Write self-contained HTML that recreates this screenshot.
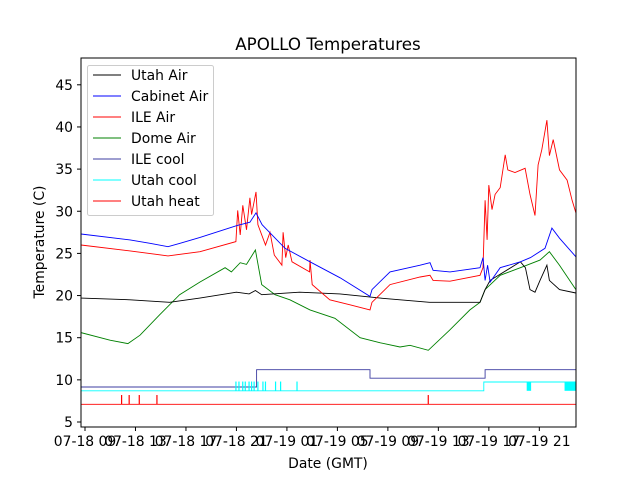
<!DOCTYPE html>
<html><head><meta charset="utf-8"><style>
body{margin:0;background:#fff}
svg{display:block;font-family:"DejaVu Sans","Liberation Sans",sans-serif}
</style></head><body>
<svg id="chart" width="640" height="480" viewBox="0 0 640 480">
<rect width="640" height="480" fill="#fff"/>
<text x="328" y="50" text-anchor="middle" font-size="16.7">APOLLO Temperatures</text>
<g id="plot"></g>
<rect x="81" y="58" width="495" height="369" fill="none" stroke="#000" stroke-width="1"/>
<g id="axes"></g>
<text x="328" y="468" text-anchor="middle" font-size="13.9">Date (GMT)</text>
<text transform="translate(44,242) rotate(-90)" text-anchor="middle" font-size="13.9">Temperature (C)</text>
<g id="legend"></g>
</svg>
<script>
const xTickHours=[9,13,17,21,25,29,33,37,41,45];
const xTickLabels=["07-18 09","07-18 13","07-18 17","07-18 21","07-19 01","07-19 05","07-19 09","07-19 13","07-19 17","07-19 21"];
const yTicks=[5,10,15,20,25,30,35,40,45];
const seriesNames=["Utah Air","Cabinet Air","ILE Air","Dome Air","ILE cool","Utah cool","Utah heat"];
const seriesColors=["#000","#00f","#f00","#008000","#3c3ca0","#00ffff","#f00"];
const utahAir=[[8.68,19.7],[12.57,19.5],[15.7,19.2],[18.1,19.7],[21,20.4],[22,20.2],[22.5,20.6],[23,20.1],[26,20.4],[29.2,20.2],[32.4,19.7],[36.3,19.2],[40.3,19.2],[40.7,20.7],[41.1,21.8],[43.5,24],[43.9,23.3],[44.26,20.7],[44.66,20.4],[45.05,21.8],[45.6,23.6],[45.8,21.8],[46.6,20.7],[47.9,20.3]];
const cabinetAir=[[8.68,27.3],[12.57,26.6],[14.15,26.2],[15.58,25.8],[16.53,26.2],[18.11,26.9],[21.04,28.3],[22.07,28.7],[22.55,29.8],[23.03,28.4],[24.85,25.6],[26.83,24],[29.21,22.1],[31.58,19.9],[31.74,20.7],[33.17,22.8],[35.55,23.6],[36.34,23.9],[36.58,23],[37.92,22.8],[40.3,23.3],[40.54,24.5],[40.7,21.8],[40.9,23.6],[41.1,21.6],[41.9,23.3],[43.5,24],[44.3,24.5],[45.45,25.6],[46,28],[46.6,26.8],[47.9,24.6]];
const ileAir=[[8.68,26],[12.57,25.3],[15.58,24.7],[18.11,25.2],[20.96,26.4],[21.1,30.1],[21.3,27.2],[21.5,30.7],[21.8,27.8],[22.07,31.6],[22.2,29.6],[22.55,32.3],[22.7,28.4],[23.3,26],[23.66,27.5],[24,24.8],[24.6,23.6],[24.7,27.5],[24.9,24.5],[25.1,26],[25.4,24],[26.8,22.8],[26.83,24.2],[27,21.3],[28.4,19.5],[30,18.9],[31.58,18.3],[31.74,19.2],[33.17,21.3],[35.55,22.2],[36.34,22.4],[36.58,21.8],[37.92,21.7],[40.3,22.4],[40.54,23.3],[40.7,31.3],[40.86,26.6],[41,33.1],[41.25,30.2],[41.5,32],[41.9,32.8],[42.3,36.7],[42.5,34.9],[43.07,34.6],[43.87,35.1],[44.26,32],[44.66,29.5],[44.9,35.5],[45.2,37.3],[45.6,40.8],[45.8,36.6],[46.1,38.5],[46.6,34.9],[47.2,33.7],[47.6,31.3],[47.9,29.8]];
const domeAir=[[8.68,15.6],[10.98,14.7],[12.4,14.3],[13.36,15.3],[14.9,17.7],[16.5,20.1],[18.1,21.6],[20.1,23.3],[20.6,22.8],[21.3,23.9],[21.8,23.7],[22.5,25.4],[23,21.3],[24.06,20.1],[25.24,19.5],[26.83,18.3],[28.8,17.3],[30.8,15],[32.4,14.4],[33.96,13.9],[34.75,14.1],[36.2,13.5],[37.9,15.9],[39.5,18.3],[40.3,19.2],[40.7,20.7],[41.9,22.4],[43.5,23.3],[45.05,24.2],[45.8,25.2],[46.6,23.6],[47.9,20.7]];
const ileCool=[[8.68,9.15],[22.6,9.15],[22.6,11.2],[31.58,11.2],[31.58,10.2],[40.7,10.2],[40.7,11.2],[47.9,11.2]];
const utahCool=[[8.68,8.7],[40.6,8.7],[40.6,9.75],[47.9,9.75]];
const utahCoolPulses=[20.96,21.2,21.5,21.7,22,22.2,22.4,22.7,23.1,23.3,24.1,24.5,25.8];
const utahCoolBlocks=[[44.0,44.35],[47.0,47.9]];
const utahHeatBase=7.1;
const utahHeatSpikes=[11.9,12.5,13.3,14.7,36.2];
const spikeTop=8.2, pulseTop=9.8;
const NS="http://www.w3.org/2000/svg";
const X=h=>85+(h-9)*12.62, Y=v=>422-(v-5)*8.43;
const plot=document.getElementById('plot'),axes=document.getElementById('axes'),legend=document.getElementById('legend');
function mk(tag,attrs,parent){const e=document.createElementNS(NS,tag);for(const k in attrs)e.setAttribute(k,attrs[k]);parent.appendChild(e);return e;}
const clip=mk('clipPath',{id:'c'},plot);mk('rect',{x:81,y:58,width:495,height:369},clip);
const g=mk('g',{'clip-path':'url(#c)'},plot);
function line(data,color,name){const p=mk('polyline',{points:data.map(d=>X(d[0]).toFixed(1)+','+Y(d[1]).toFixed(1)).join(' '),fill:'none',stroke:color,'stroke-width':0.9},g);

}
line(ileCool,seriesColors[4],'ile-cool-line');
line(utahCool,seriesColors[5],'utah-cool-line');
utahCoolPulses.forEach(h=>{const e=mk('line',{x1:X(h),x2:X(h),y1:Y(8.7),y2:Y(pulseTop),stroke:seriesColors[5],'stroke-width':1.2},g);

});
utahCoolBlocks.forEach(b=>{const e=mk('rect',{x:X(b[0]),y:Y(pulseTop),width:X(b[1])-X(b[0]),height:Y(8.7)-Y(pulseTop),fill:seriesColors[5]},g);

});
line([[8.68,utahHeatBase],[47.9,utahHeatBase]],seriesColors[6],'utah-heat-line');
utahHeatSpikes.forEach(h=>{const e=mk('line',{x1:X(h),x2:X(h),y1:Y(utahHeatBase),y2:Y(spikeTop),stroke:seriesColors[6],'stroke-width':1.2},g);

});
line(domeAir,seriesColors[3],'dome-air-line');
line(utahAir,seriesColors[0],'utah-air-line');
line(ileAir,seriesColors[2],'ile-air-line');
line(cabinetAir,seriesColors[1],'cabinet-air-line');
yTicks.forEach(v=>{mk('line',{x1:77,x2:81,y1:Y(v),y2:Y(v),stroke:'#000'},axes);
const t=mk('text',{x:73,y:Y(v)+5,'text-anchor':'end','font-size':13.9},axes);t.textContent=v;

});
xTickHours.forEach((h,i)=>{mk('line',{x1:X(h),x2:X(h),y1:427,y2:431,stroke:'#000'},axes);
const t=mk('text',{x:X(h),y:446,'text-anchor':'middle','font-size':13.9},axes);t.textContent=xTickLabels[i];

});
const lb=mk('rect',{x:87.5,y:65.5,width:126,height:150,rx:2,fill:'#fff','fill-opacity':0.8,stroke:'#ccc'},legend);


seriesNames.forEach((n,i)=>{const y=75+i*21;
const ge=mk('g',{},legend);


mk('line',{x1:93,x2:121,y1:y,y2:y,stroke:seriesColors[i],'stroke-width':1},ge);
const t=mk('text',{x:131,y:y+5,'font-size':13.9},ge);t.textContent=n;});
</script>
</body></html>
